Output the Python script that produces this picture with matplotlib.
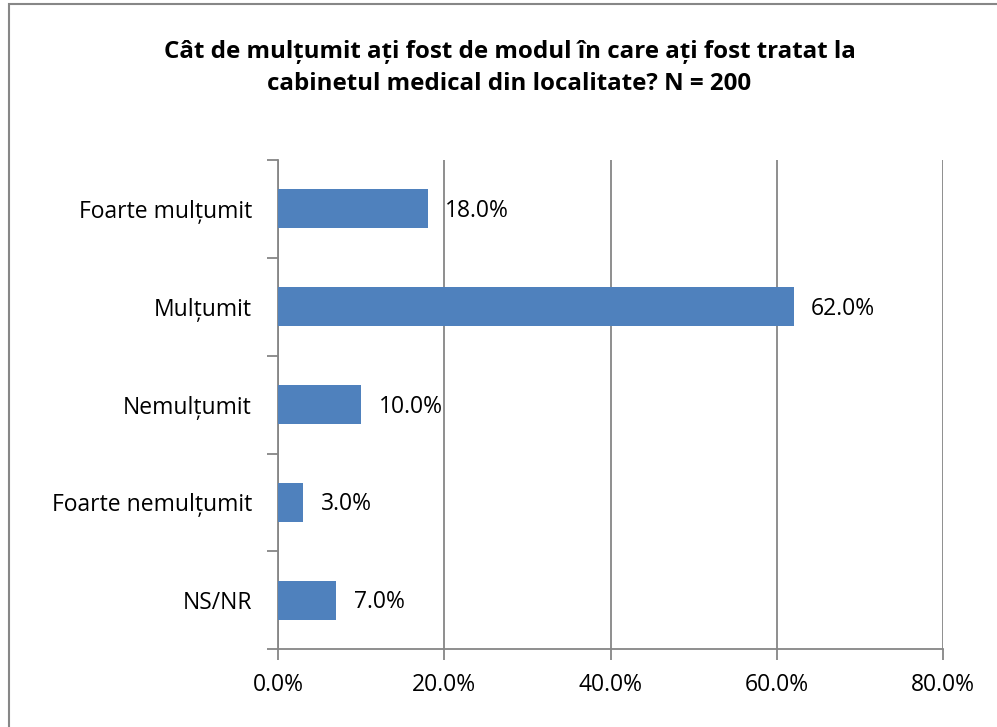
import matplotlib.pyplot as plt
from matplotlib.patches import Rectangle
from matplotlib.ticker import FuncFormatter, MultipleLocator

categories = ["Foarte mulțumit", "Mulțumit", "Nemulțumit", "Foarte nemulțumit", "NS/NR"]
values = [18.0, 62.0, 10.0, 3.0, 7.0]
title = "Cât de mulțumit ați fost de modul în care ați fost tratat la\ncabinetul medical din localitate? N = 200"

plt.rcParams['font.family'] = ['Open Sans', 'DejaVu Sans']

fig = plt.figure(figsize=(9.97, 7.27), dpi=100)
ax = fig.add_axes([0.279, 0.107, 0.667, 0.673])

# outer chart border
fig.patches.append(Rectangle((8.5 / 997, -0.05), 1.1, 1.05 - 3.5 / 727, transform=fig.transFigure,
                             fill=False, edgecolor='#878787', linewidth=1.5))

y = list(range(len(categories)))
ax.barh(y, values, height=0.4, color='#4F81BD', zorder=3)
for yi, v in zip(y, values):
    ax.text(v + 2.1, yi + 0.02, f"{v:.1f}%", va='center', ha='left', fontsize=16.5, zorder=4)

ax.set_xlim(0, 80)
ax.set_ylim(len(categories) - 0.5, -0.5)
ax.xaxis.set_major_locator(MultipleLocator(20))
ax.xaxis.set_major_formatter(FuncFormatter(lambda x, p: f"{x:.1f}%"))
ax.grid(axis='x', color='#868686', linewidth=1.3, zorder=0)

ax.set_yticks(y)
ax.set_yticklabels(categories, fontsize=16.5)
ax.set_yticks([i - 0.5 for i in range(len(categories) + 1)], minor=True)
ax.tick_params(axis='y', which='major', length=0, pad=19)
ax.tick_params(axis='y', which='minor', length=8, color='#868686', width=1.3)
ax.tick_params(axis='x', length=8, color='#868686', width=1.3, labelsize=16.5, pad=9)

for s in ['top', 'right']:
    ax.spines[s].set_visible(False)
for s in ['left', 'bottom']:
    ax.spines[s].set_color('#868686')
    ax.spines[s].set_linewidth(1.3)

fig.text(0.511, 0.906, title, ha='center', va='center', fontsize=17.4, fontweight='bold',
         linespacing=1.45)

fig.savefig('out.png', dpi=100)
